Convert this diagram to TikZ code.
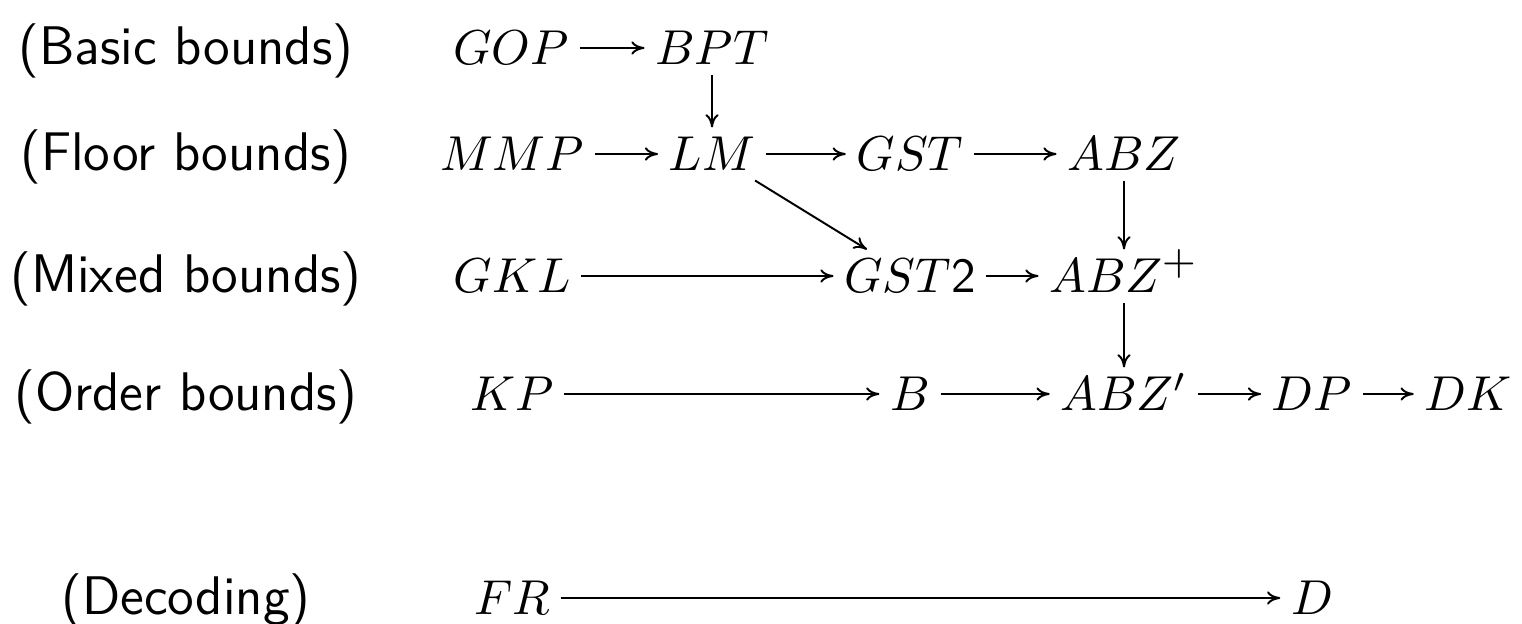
\documentclass[tikz,border=0pt]{standalone}
\usepackage{amsmath}
\usetikzlibrary{arrows.meta}
\newcommand{\plussup}{\text{\fontsize{8.6}{9}\selectfont\sffamily +}}
\begin{document}
\begin{tikzpicture}[x=0.2041pt,y=-0.2041pt,
  m/.style={inner xsep=2pt, inner ysep=1.8pt, text height=6.83pt, text depth=0pt},
  lab/.style={inner sep=0pt, text height=6.83pt, text depth=0pt, font=\fontsize{11.1}{13}\sffamily},
  ar/.style={-{To[length=2.7pt,width=2.7pt]}}]
\useasboundingbox (0,0) rectangle (1522,624);
% labels
\node[lab] (l1) at (186,48) {(Basic bounds)};
\node[lab] (l2) at (186,154) {(Floor bounds)};
\node[lab] (l3) at (186,276) {(Mixed bounds)};
\node[lab] (l4) at (186,394) {(Order bounds)};
\node[lab] (l5) at (186,598) {(Decoding)};
% entries
\node[m] (gop) at (511,48) {$GOP$};
\node[m] (bpt) at (712,48) {$BPT$};
\node[m] (mmp) at (512,154) {$MMP$};
\node[m] (lm) at (712,154) {$LM$};
\node[m] (gst) at (910,154) {$GST$};
\node[m] (abz) at (1124,154) {$ABZ$};
\node[m] (gkl) at (512,276) {$GKL$};
\node[m] (gsttwo) at (910,276) {$GST\textsf{2}$};
\node[m] (abzp) at (1124,276) {$ABZ^{\plussup}$};
\node[m] (kp) at (512,394) {$KP$};
\node[m] (b) at (910,394) {$B$};
\node[m] (abzq) at (1124,394) {$ABZ'$};
\node[m] (dp) at (1312,394) {$DP$};
\node[m] (dk) at (1468,394) {$DK$};
\node[m] (fr) at (512,598) {$FR$};
\node[m] (d) at (1312,598) {$D$};
% arrows
\draw[ar] (gop) -- (bpt);
\draw[ar] (bpt) -- (lm);
\draw[ar] (mmp) -- (lm);
\draw[ar] (lm) -- (gst);
\draw[ar] (gst) -- (abz);
\draw[ar] (lm) -- (gsttwo);
\draw[ar] (abz) -- (abzp);
\draw[ar] (gkl) -- (gsttwo);
\draw[ar] (gsttwo) -- (abzp);
\draw[ar] (abzp) -- (abzq);
\draw[ar] (kp) -- (b);
\draw[ar] (b) -- (abzq);
\draw[ar] (abzq) -- (dp);
\draw[ar] (dp) -- (dk);
\draw[ar] (fr) -- (d);
\end{tikzpicture}
\end{document}
